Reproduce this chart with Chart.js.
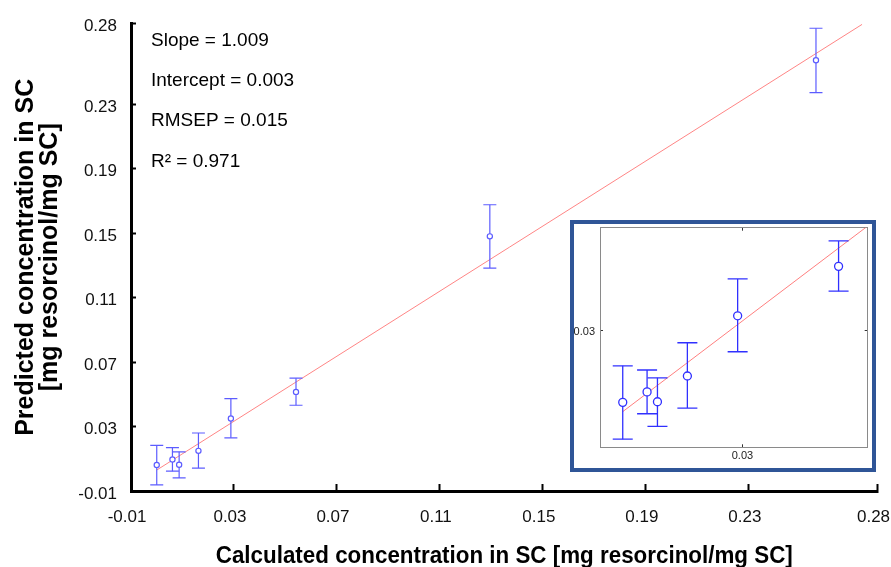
<!DOCTYPE html>
<html>
<head>
<meta charset="utf-8">
<script src="https://cdn.jsdelivr.net/npm/chart.js@4.4.1/dist/chart.umd.min.js"></script>
<style>
  body { margin: 0; background: #fff; }
  #wrap { position: relative; width: 891px; height: 567px; }
  #main { position: absolute; left: 0; top: 0; }
  #insetBox { position: absolute; left: 570px; top: 220px; width: 306px; height: 252px;
              box-sizing: border-box; border: 4px solid #2f5597; background: #fff; }
  #inset { position: absolute; left: 0; top: 0; }
</style>
</head>
<body>
<div id="wrap">
  <canvas id="main" width="891" height="567"></canvas>
  <div id="insetBox"><canvas id="inset" width="298" height="244"></canvas></div>
</div>
<script>
// measured vs. predicted concentration, with error bars
const calcX   = [0.0000, 0.0061, 0.0087, 0.0162, 0.0288, 0.0541, 0.1294, 0.2561];
const predY   = [0.0061, 0.0096, 0.0063, 0.0149, 0.0350, 0.0515, 0.1480, 0.2573];
const errLow  = [-0.0062, 0.0023, -0.0019, 0.0042, 0.0230, 0.0432, 0.1283, 0.2372];
const errHigh = [0.0183, 0.0169, 0.0143, 0.0260, 0.0473, 0.0600, 0.1676, 0.2771];

// regression line end points
const fitX = [0.000, 0.274];
const fitY = [0.003, 0.2795];

const mainTicks  = [-0.01, 0.03, 0.07, 0.11, 0.15, 0.19, 0.23, 0.28];
const insetTicks = [0.03];
const insetCount = 6; // inset zooms on the first six samples

const statLines = ['Slope = 1.009', 'Intercept = 0.003', 'RMSEP = 0.015', 'R\u00b2 = 0.971'];
const xTitle = 'Calculated concentration in SC [mg resorcinol/mg SC]';
const yTitle = ['Predicted concentration in SC', '[mg resorcinol/mg SC]'];

const family = '"Liberation Sans", Arial, sans-serif';

// build datasets: fit line, error bars, caps, points
function makeSets(n, st) {
  const bars = [], caps = [], pts = [];
  for (let i = 0; i < n; i++) {
    bars.push({ x: calcX[i], y: errLow[i] }, { x: calcX[i], y: errHigh[i] }, { x: calcX[i], y: null });
    caps.push({ x: calcX[i], y: errLow[i] }, { x: calcX[i], y: errHigh[i] });
    pts.push({ x: calcX[i], y: predY[i] });
  }
  return [
    { data: fitX.map((x, i) => ({ x: x, y: fitY[i] })), showLine: true, pointRadius: 0,
      borderColor: st.fit, borderWidth: 1, order: 3 },
    { data: bars, showLine: true, spanGaps: false, pointRadius: 0,
      borderColor: st.bar, borderWidth: st.barW, order: 2 },
    { data: caps, showLine: false, pointStyle: 'line', pointRadius: st.cap,
      pointBorderColor: st.bar, pointBorderWidth: st.barW, order: 1 },
    { data: pts, showLine: false, pointStyle: 'circle', pointRadius: st.r,
      pointBorderColor: st.bar, pointBackgroundColor: '#fff', pointBorderWidth: st.barW, order: 0 }
  ];
}

const mainText = {
  id: 'mainText',
  afterDraw(chart) {
    const { ctx, chartArea: a } = chart;
    ctx.save();
    ctx.fillStyle = '#000';
    ctx.textBaseline = 'alphabetic';
    ctx.font = '19px ' + family;
    statLines.forEach((t, i) => ctx.fillText(t, a.left + 20, a.top + 22 + i * 40.3));
    ctx.textAlign = 'center';
    ctx.font = 'bold 23px ' + family;
    ctx.fillText(xTitle, (a.left + a.right) / 2, 563, 577);
    ctx.translate(33, (a.top + a.bottom) / 2);
    ctx.rotate(-Math.PI / 2);
    ctx.font = 'bold 25px ' + family;
    ctx.fillText(yTitle[0], 0, 0, 362);
    ctx.fillText(yTitle[1], 0, 24, 274);
    ctx.restore();
  }
};

new Chart(document.getElementById('main'), {
  type: 'scatter',
  data: { datasets: makeSets(calcX.length, { fit: '#ff8585', bar: '#5c5cff', barW: 1.2, cap: 6.5, r: 2.6 }) },
  options: {
    responsive: false,
    animation: false,
    events: [],
    layout: { autoPadding: false, padding: { left: 0, right: 13.5, top: 23.6, bottom: 0 } },
    plugins: { legend: { display: false }, tooltip: { enabled: false } },
    scales: {
      x: {
        type: 'linear', min: -0.01, max: 0.28,
        afterBuildTicks: s => { s.ticks = mainTicks.map(v => ({ value: v })); },
        afterFit: s => { s.height = 76; s.paddingLeft = 0; s.paddingRight = 0; },
        border: { display: true, color: '#000', width: 3 },
        grid: { drawOnChartArea: false, tickLength: -7, tickWidth: 2, tickColor: '#000' },
        ticks: { autoSkip: false, maxRotation: 0, padding: 23, labelOffset: -4, color: '#111',
                 font: { family: family, size: 17 }, callback: v => v.toFixed(2) }
      },
      y: {
        type: 'linear', min: -0.01, max: 0.28,
        afterBuildTicks: s => { s.ticks = mainTicks.map(v => ({ value: v })); },
        afterFit: s => { s.width = 131; s.paddingTop = 0; s.paddingBottom = 0; },
        border: { display: true, color: '#000', width: 3 },
        grid: { drawOnChartArea: false, tickLength: -5, tickWidth: 2, tickColor: '#000' },
        ticks: { autoSkip: false, padding: 19, labelOffset: 3, color: '#111',
                 font: { family: family, size: 17 }, callback: v => v.toFixed(2) }
      }
    }
  },
  plugins: [mainText]
});

// inset axis helper
function insetAxis(pos, min, max, showLabels) {
  const horiz = pos === 'top' || pos === 'bottom';
  return {
    type: 'linear', position: pos, min: min, max: max,
    afterBuildTicks: s => { s.ticks = insetTicks.map(v => ({ value: v })); },
    afterFit: s => {
      if (horiz) { s.height = pos === 'bottom' ? 20.7 : 0; s.paddingLeft = 0; s.paddingRight = 0; }
      else { s.width = pos === 'left' ? 26 : 0; s.paddingTop = 0; s.paddingBottom = 0; }
    },
    border: { display: true, color: '#8a8a8a', width: 1 },
    grid: { drawOnChartArea: false, tickLength: -3, tickWidth: 1, tickColor: '#333' },
    ticks: { display: showLabels, autoSkip: false, maxRotation: 0, padding: horiz ? 5.5 : 8,
             labelOffset: horiz ? 0 : 1, color: '#222',
             font: { family: family, size: 11 }, callback: v => v.toFixed(2) }
  };
}

new Chart(document.getElementById('inset'), {
  type: 'scatter',
  data: { datasets: makeSets(insetCount, { fit: '#ff7f7f', bar: '#3030ff', barW: 1.3, cap: 10, r: 4 }) },
  options: {
    responsive: false,
    animation: false,
    events: [],
    layout: { autoPadding: false, padding: { left: 0, right: 4.3, top: 3.7, bottom: 0 } },
    plugins: { legend: { display: false }, tooltip: { enabled: false } },
    scales: {
      x: insetAxis('bottom', -0.0057, 0.0614, true),
      y: insetAxis('left', -0.0089, 0.0644, true),
      x2: insetAxis('top', -0.0057, 0.0614, false),
      y2: insetAxis('right', -0.0089, 0.0644, false)
    }
  }
});
</script>
</body>
</html>
